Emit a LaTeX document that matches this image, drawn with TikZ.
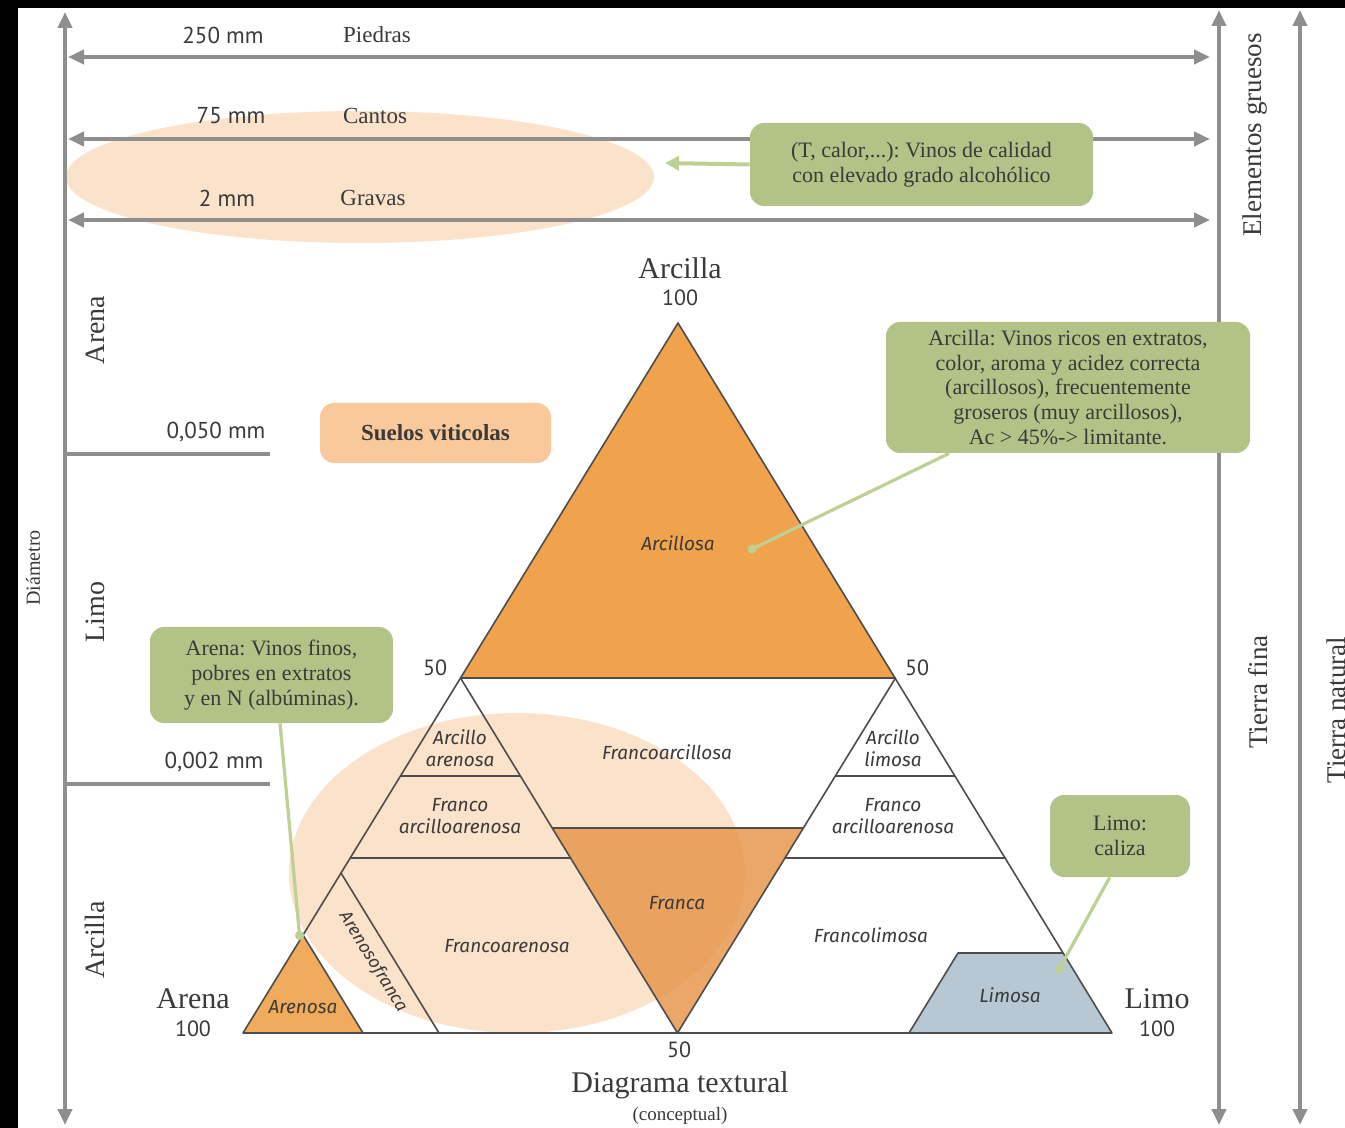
\documentclass[tikz,border=0pt]{standalone}
\usepackage{fontspec}
\setmainfont{Liberation Serif}
\newfontfamily\numfont{PT Sans}
\newfontfamily\zonefont{Fira Sans}
\usepackage{xcolor}
\usetikzlibrary{arrows.meta}
\frenchspacing

\definecolor{axisgray}{HTML}{8E8E8E}
\definecolor{peach}{HTML}{FBE2CB}
\definecolor{clayorange}{HTML}{F0A24C}
\definecolor{francaorange}{HTML}{E8974F}
\definecolor{siltblue}{HTML}{B7C8D4}
\definecolor{notegreen}{HTML}{B3C388}
\definecolor{leadgreen}{HTML}{BCD193}
\definecolor{suelopeach}{HTML}{F9C99B}
\definecolor{edgegray}{HTML}{4D4D4D}
\definecolor{inkgray}{HTML}{3A3A3A}

\begin{document}
\begin{tikzpicture}[x=0.5pt, y=-0.5pt,
    every node/.style={text=inkgray},
    scaleaxis/.style={draw=axisgray, line width=2pt, {Triangle[length=8pt,width=7pt]}-{Triangle[length=8pt,width=7pt]}},
    limitline/.style={draw=axisgray, line width=2pt},
    border/.style={draw=edgegray, line width=0.8pt, line join=round},
    winenote/.style={fill=notegreen, rounded corners=7pt, align=center, inner sep=0pt, font=\fontsize{11}{12.4}\selectfont},
    leader/.style={draw=leadgreen, line width=1.6pt, -{Circle[length=4.5pt]}},
    mmlabel/.style={font=\numfont\fontsize{11.5}{12}\selectfont},
    grain/.style={font=\fontsize{11.5}{12}\selectfont},
    fraction/.style={rotate=90, font=\fontsize{14}{14}\selectfont},
    zonelabel/.style={font=\zonefont\itshape\fontsize{9.5}{11}\selectfont, align=center, inner sep=0pt},
    corner/.style={font=\fontsize{15}{15}\selectfont},
    pct/.style={font=\numfont\fontsize{11}{11}\selectfont}]
  \useasboundingbox (0,0) rectangle (1345,1128);
  \fill[black] (0,0) rectangle (1345,1128);
  \fill[white] (18,8) rectangle (1345,1128);

  % gravel ellipse and the coarse scale
  \fill[peach] (360,177) ellipse [x radius=294, y radius=66];
  \begin{scope}
    \draw[scaleaxis] (65,1125) -- (65,12);
    \draw[scaleaxis] (1219,1125) -- (1219,10);
    \draw[scaleaxis] (1300,1125) -- (1300,10);
    \draw[scaleaxis] (68,57) -- (1210,57);
    \draw[scaleaxis] (68,139) -- (1210,139);
    \draw[scaleaxis] (68,220) -- (1210,220);
    \draw[limitline] (65,454) -- (270,454);
    \draw[limitline] (65,784) -- (270,784);
  \end{scope}
  \begin{scope}
    \node[mmlabel] (mm250) at (223,35) {250 mm};
    \node[grain] (piedras) at (377,35) {Piedras};
    \node[mmlabel] (mm75) at (231,116) {75 mm};
    \node[grain] (cantos) at (375,116) {Cantos};
    \node[mmlabel] (mm2) at (227,198) {2 mm};
    \node[grain] (gravas) at (373,198) {Gravas};
    \node[mmlabel] (mm050) at (216,432) {0,050 mm};
    \node[mmlabel] (mm002) at (214,762) {0,002 mm};
    \node[rotate=90, font=\fontsize{10}{10}\selectfont] (diametro) at (33,568) {Diámetro};
    \node[fraction] (arenaband) at (95,330) {Arena};
    \node[fraction] (limoband) at (95,612) {Limo};
    \node[fraction] (arcillaband) at (95,940) {Arcilla};
    \node[fraction, font=\fontsize{13.5}{14}\selectfont] (gruesos) at (1255,135) {Elementos gruesos};
    \node[fraction, font=\fontsize{13.5}{14}\selectfont] (fina) at (1258,692) {Tierra fina};
    \node[fraction, font=\fontsize{13.5}{14}\selectfont] (natural) at (1336,710) {Tierra natural};
  \end{scope}

  % textural triangle
  \coordinate (top) at (678,323);
  \coordinate (lft) at (243,1033);
  \coordinate (rgt) at (1112,1033);
  \coordinate (ml) at (460.5,678);
  \coordinate (mr) at (895.5,678);
  \coordinate (mb) at (677.5,1033);
  \fill[peach] (517,873) ellipse [x radius=228, y radius=160];
  \fill[clayorange] (top) -- (ml) -- (mr) -- cycle;
  \fill[francaorange, fill opacity=0.85] (552.4,828) -- (803.6,828) -- (mb) -- cycle;
  \fill[clayorange, fill opacity=0.9] (lft) -- (303,935) -- (363,1033) -- cycle;
  \fill[siltblue] (958,953) -- (1063,953) -- (rgt) -- (909,1033) -- cycle;
  \begin{scope}[border]
    \draw (top) -- (lft) -- (rgt) -- cycle;
    \draw (ml) -- (mr);
    \draw (ml) -- (mb) -- (mr);
    \draw (400,776) -- (521,776);
    \draw (835,776) -- (955,776);
    \draw (350.2,858) -- (570.8,858);
    \draw (785.2,858) -- (1005.8,858);
    \draw (552.4,828) -- (803.6,828);
    \draw (303,935) -- (363,1033);
    \draw (341,873) -- (439,1033);
    \draw (909,1033) -- (958,953) -- (1063,953);
  \end{scope}
  \begin{scope}
    \node[corner] (arcilla) at (680,268) {Arcilla};
    \node[pct] (arcilla100) at (680,298) {100};
    \node[corner] (arena) at (193,999) {Arena};
    \node[pct] (arena100) at (193,1029) {100};
    \node[corner] (limo) at (1157,999) {Limo};
    \node[pct] (limo100) at (1157,1029) {100};
    \node[pct] (half-l) at (435,668) {50};
    \node[pct] (half-r) at (917,668) {50};
    \node[pct] (half-b) at (679,1050) {50};
    \node[corner] (diagrama) at (680,1085) {Diagrama textural};
    \node[font=\fontsize{9.5}{10}\selectfont] (conceptual) at (680,1116) {(conceptual)};
  \end{scope}
  \begin{scope}[every node/.append style={zonelabel}]
    \node (arcillosa) at (678,543) {Arcillosa};
    \node (francoarcillosa) at (667,752) {Francoarcillosa};
    \node (arcilloarenosa) at (460,748) {Arcillo\\arenosa};
    \node (francoarcilloarenosa-l) at (460,816) {Franco\\arcilloarenosa};
    \node (franca) at (677,903) {Franca};
    \node (francoarenosa) at (507,946) {Francoarenosa};
    \node[rotate=-58.5, font=\zonefont\itshape\fontsize{8.8}{10}\selectfont] (arenosofranca) at (373,962) {Arenosofranca};
    \node (arenosa) at (303,1007) {Arenosa};
    \node (arcillolimosa) at (893,748) {Arcillo\\limosa};
    \node (francoarcilloarenosa-r) at (893,816) {Franco\\arcilloarenosa};
    \node (francolimosa) at (871,935) {Francolimosa};
    \node (limosa) at (1010,995) {Limosa};
  \end{scope}

  % notes
  \node[fill=suelopeach, rounded corners=7pt, minimum width=115.5pt, minimum height=30pt,
    font=\bfseries\fontsize{11.5}{12}\selectfont] (suelos) at (435.5,433) {Suelos viticolas};
  \node[winenote, minimum width=171.5pt, minimum height=41.5pt] (tnote) at (921.5,164.5)
    {(T, calor,...): Vinos de calidad\\con elevado grado alcohólico};
  \node[winenote, minimum width=182pt, minimum height=65.5pt] (arcnote) at (1068,387.5)
    {Arcilla: Vinos ricos en extratos,\\color, aroma y acidez correcta\\(arcillosos), frecuentemente\\groseros (muy arcillosos),\\Ac > 45\%-> limitante.};
  \node[winenote, minimum width=121.5pt, minimum height=48pt] (arenanote) at (271.5,675)
    {Arena: Vinos finos,\\pobres en extratos\\y en N (albúminas).};
  \node[winenote, minimum width=70pt, minimum height=41pt] (limonote) at (1120,836)
    {Limo:\\caliza};
  \coordinate (gravel) at (665,163);
  \coordinate (claydot) at (748,551);
  \coordinate (sanddot) at (300,940);
  \coordinate (siltdot) at (1057,973);
  \draw[draw=leadgreen, line width=2pt, -{Triangle[length=7pt,width=7pt]}] (tnote.west) -- (gravel);
  \draw[leader] (arcnote.209) -- (claydot);
  \draw[leader] (arenanote.280) -- (sanddot);
  \draw[leader] (limonote.256) -- (siltdot);
\end{tikzpicture}
\end{document}
